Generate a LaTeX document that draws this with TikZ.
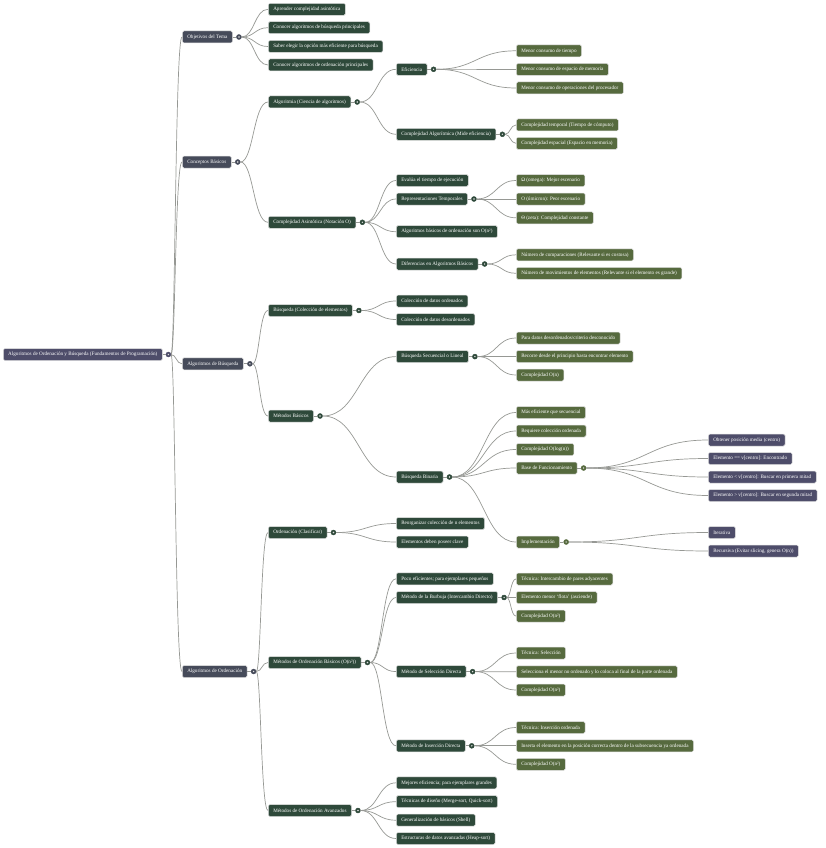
\documentclass[tikz,border=0pt]{standalone}
\usepackage{fontspec}
\setmainfont{Liberation Serif}
\usepackage{tikz}
\usetikzlibrary{positioning}
\definecolor{SlateNode}{RGB}{70,75,90}
\definecolor{PlumNode}{RGB}{78,77,106}
\definecolor{ForestNode}{RGB}{46,73,58}
\definecolor{OliveNode}{RGB}{86,106,62}
\definecolor{LinkGray}{RGB}{150,152,148}
\tikzset{
    topic/.style={rectangle, rounded corners=1.5pt, fill=#1, draw=black!12, line width=0.5pt,
        text=white, font=\fontsize{5.15}{6}\selectfont, inner xsep=5pt, inner ysep=0pt,
        minimum height=12pt, anchor=west},
    dot/.style={circle, fill=#1, draw=#1, inner sep=0pt, minimum size=5pt,
        path picture={\fill[white!75!gray] (path picture bounding box.center) circle (0.8pt);}},
    wire/.style={draw=LinkGray, line width=0.7pt},
}
\newcommand{\branch}[2]{%
    \path (#1) -- (#2.west) coordinate[pos=.5] (mid);
    \draw[wire] (#1.east) .. controls (mid |- #1) and (mid |- #2.west) .. (#2.west);}
\newcommand{\stem}[1]{\draw[wire] (#1.east) -- (#1-c.west);}

\begin{document}
\begin{tikzpicture}[x=1pt, y=-1pt]
            \path[use as bounding box] (0,0) rectangle (825,848);

            \node[topic=PlumNode] (root) at (3,354.5) {Algoritmos de Ordenación y Búsqueda (Fundamentos de Programación)};

            \node[topic=SlateNode] (obj) at (182,37) {Objetivos del Tema};
            \node[topic=SlateNode] (conc) at (182,162) {Conceptos Básicos};
            \node[topic=SlateNode] (busq) at (182,363.8) {Algoritmos de Búsqueda};
            \node[topic=SlateNode] (ord) at (182,671.5) {Algoritmos de Ordenación};

            \node[topic=ForestNode] (a1) at (268,9.3) {Aprender complejidad asintótica};
            \node[topic=ForestNode] (a2) at (268,27.7) {Conocer algoritmos de búsqueda principales};
            \node[topic=ForestNode] (a3) at (268,46.5) {Saber elegir la opción más eficiente para búsqueda};
            \node[topic=ForestNode] (a4) at (268,65) {Conocer algoritmos de ordenación principales};
            \node[topic=ForestNode] (alg) at (268,102) {Algoritmia (Ciencia de algoritmos)};
            \node[topic=ForestNode] (asin) at (268,222.3) {Complejidad Asintótica (Notación O)};
            \node[topic=ForestNode] (bcol) at (268,310.5) {Búsqueda (Colección de elementos)};
            \node[topic=ForestNode] (bmet) at (268,416) {Métodos Básicos};
            \node[topic=ForestNode] (oclas) at (268,532.5) {Ordenación (Clasificar)};
            \node[topic=ForestNode] (obas) at (268,662.5) {Métodos de Ordenación Básicos (O(n²))};
            \node[topic=ForestNode] (oava) at (268,810.5) {Métodos de Ordenación Avanzados};

            \node[topic=ForestNode] (efi) at (396,69.3) {Eficiencia};
            \node[topic=ForestNode] (calg) at (396,134.3) {Complejidad Algorítmica (Mide eficiencia)};
            \node[topic=ForestNode] (eval) at (396,180.5) {Evalúa el tiempo de ejecución};
            \node[topic=ForestNode] (rept) at (396,199) {Representaciones Temporales};
            \node[topic=ForestNode] (basn) at (396,231.7) {Algoritmos básicos de ordenación son O(n²)};
            \node[topic=ForestNode] (dif) at (396,264) {Diferencias en Algoritmos Básicos};
            \node[topic=ForestNode] (cord) at (396,301) {Colección de datos ordenados};
            \node[topic=ForestNode] (cdes) at (396,319.5) {Colección de datos desordenados};
            \node[topic=ForestNode] (bsec) at (396,356.6) {Búsqueda Secuencial o Lineal};
            \node[topic=ForestNode] (bbin) at (396,477) {Búsqueda Binaria};
            \node[topic=ForestNode] (reorg) at (396,523.5) {Reorganizar colección de n elementos};
            \node[topic=ForestNode] (clave) at (396,542) {Elementos deben poseer clave};
            \node[topic=ForestNode] (poco) at (396,578.8) {Poco eficientes; para ejemplares pequeños};
            \node[topic=ForestNode] (burb) at (396,597.5) {Método de la Burbuja (Intercambio Directo)};
            \node[topic=ForestNode] (sel) at (396,671.6) {Método de Selección Directa};
            \node[topic=ForestNode] (ins) at (396,745.8) {Método de Inserción Directa};
            \node[topic=ForestNode] (mej) at (396,782.8) {Mejores eficiencia; para ejemplares grandes};
            \node[topic=ForestNode] (tecd) at (396,801.7) {Técnicas de diseño (Merge-sort, Quick-sort)};
            \node[topic=ForestNode] (gen) at (396,820.2) {Generalización de básicos (Shell)};
            \node[topic=ForestNode] (estr) at (396,838.5) {Estructuras de datos avanzadas (Heap-sort)};

            \node[topic=OliveNode] (t1) at (516,50.8) {Menor consumo de tiempo};
            \node[topic=OliveNode] (t2) at (516,69.5) {Menor consumo de espacio de memoria};
            \node[topic=OliveNode] (t3) at (516,88) {Menor consumo de operaciones del procesador};
            \node[topic=OliveNode] (ct) at (516,125) {Complejidad temporal (Tiempo de cómputo)};
            \node[topic=OliveNode] (ce) at (516,143.3) {Complejidad espacial (Espacio en memoria)};
            \node[topic=OliveNode] (om) at (516,180.5) {Ω (omega): Mejor escenario};
            \node[topic=OliveNode] (omi) at (516,199) {O (ómicron): Peor escenario};
            \node[topic=OliveNode] (th) at (516,217.8) {Θ (zeta): Complejidad constante};
            \node[topic=OliveNode] (ncmp) at (516,254.8) {Número de comparaciones (Relevante si es costosa)};
            \node[topic=OliveNode] (nmov) at (516,273.3) {Número de movimientos de elementos (Relevante si el elemento es grande)};
            \node[topic=OliveNode] (pdd) at (516,338) {Para datos desordenados/criterio desconocido};
            \node[topic=OliveNode] (rec) at (516,356.5) {Recorre desde el principio hasta encontrar elemento};
            \node[topic=OliveNode] (con) at (516,375) {Complejidad O(n)};
            \node[topic=OliveNode] (mef) at (516,412.5) {Más eficiente que secuencial};
            \node[topic=OliveNode] (req) at (516,431) {Requiere colección ordenada};
            \node[topic=OliveNode] (clog) at (516,449.5) {Complejidad O(log(n))};
            \node[topic=OliveNode] (base) at (516,468) {Base de Funcionamiento};
            \node[topic=OliveNode] (impl) at (516,542) {Implementación};
            \node[topic=OliveNode] (bt1) at (516,579) {Técnica: Intercambio de pares adyacentes};
            \node[topic=OliveNode] (bt2) at (516,597.5) {Elemento menor ‘flota’ (asciende)};
            \node[topic=OliveNode] (bt3) at (516,616) {Complejidad O(n²)};
            \node[topic=OliveNode] (st1) at (516,653) {Técnica: Selección};
            \node[topic=OliveNode] (st2) at (516,671.8) {Selecciona el menor no ordenado y lo coloca al final de la parte ordenada};
            \node[topic=OliveNode] (st3) at (516,690) {Complejidad O(n²)};
            \node[topic=OliveNode] (it1) at (516,727.5) {Técnica: Inserción ordenada};
            \node[topic=OliveNode] (it2) at (516,745.8) {Inserta el elemento en la posición correcta dentro de la subsecuencia ya ordenada};
            \node[topic=OliveNode] (it3) at (516,764.3) {Complejidad O(n²)};

            \node[topic=PlumNode] (p1) at (708,440) {Obtener posición media (centro)};
            \node[topic=PlumNode] (p2) at (708,458.5) {Elemento == v[centro]: Encontrado};
            \node[topic=PlumNode] (p3) at (708,477) {Elemento < v[centro]: Buscar en primera mitad};
            \node[topic=PlumNode] (p4) at (708,495.5) {Elemento > v[centro]: Buscar en segunda mitad};
            \node[topic=PlumNode] (iter) at (708,532.5) {Iterativa};
            \node[topic=PlumNode] (recu) at (708,551) {Recursiva (Evitar slicing, genera O(n))};

            \node[dot=PlumNode, right=3pt of root] (root-c) {};
            \node[dot=SlateNode, right=3.5pt of obj] (obj-c) {};
            \node[dot=SlateNode, right=3.5pt of conc] (conc-c) {};
            \node[dot=SlateNode, right=3.5pt of busq] (busq-c) {};
            \node[dot=SlateNode, right=3.5pt of ord] (ord-c) {};
            \node[dot=ForestNode, right=3.5pt of alg] (alg-c) {};
            \node[dot=ForestNode, right=3.5pt of asin] (asin-c) {};
            \node[dot=ForestNode, right=3.5pt of bcol] (bcol-c) {};
            \node[dot=ForestNode, right=3.5pt of bmet] (bmet-c) {};
            \node[dot=ForestNode, right=3.5pt of oclas] (oclas-c) {};
            \node[dot=ForestNode, right=3.5pt of obas] (obas-c) {};
            \node[dot=ForestNode, right=3.5pt of oava] (oava-c) {};
            \node[dot=ForestNode, right=3.5pt of efi] (efi-c) {};
            \node[dot=ForestNode, right=3.5pt of calg] (calg-c) {};
            \node[dot=ForestNode, right=3.5pt of rept] (rept-c) {};
            \node[dot=ForestNode, right=3.5pt of dif] (dif-c) {};
            \node[dot=ForestNode, right=3.5pt of bsec] (bsec-c) {};
            \node[dot=ForestNode, right=3.5pt of bbin] (bbin-c) {};
            \node[dot=ForestNode, right=3.5pt of burb] (burb-c) {};
            \node[dot=ForestNode, right=3.5pt of sel] (sel-c) {};
            \node[dot=ForestNode, right=3.5pt of ins] (ins-c) {};
            \node[dot=OliveNode, right=3.5pt of base] (base-c) {};
            \node[dot=OliveNode, right=3.5pt of impl] (impl-c) {};

            \foreach \p in {root,obj,conc,busq,ord,alg,asin,bcol,bmet,oclas,obas,oava,
                efi,calg,rept,dif,bsec,bbin,burb,sel,ins,base,impl} {\stem{\p}}

            \foreach \c in {obj,conc,busq,ord} {\branch{root-c}{\c}}
            \foreach \c in {a1,a2,a3,a4} {\branch{obj-c}{\c}}
            \foreach \c in {alg,asin} {\branch{conc-c}{\c}}
            \foreach \c in {bcol,bmet} {\branch{busq-c}{\c}}
            \foreach \c in {oclas,obas,oava} {\branch{ord-c}{\c}}
            \foreach \c in {efi,calg} {\branch{alg-c}{\c}}
            \foreach \c in {eval,rept,basn,dif} {\branch{asin-c}{\c}}
            \foreach \c in {cord,cdes} {\branch{bcol-c}{\c}}
            \foreach \c in {bsec,bbin} {\branch{bmet-c}{\c}}
            \foreach \c in {reorg,clave} {\branch{oclas-c}{\c}}
            \foreach \c in {poco,burb,sel,ins} {\branch{obas-c}{\c}}
            \foreach \c in {mej,tecd,gen,estr} {\branch{oava-c}{\c}}
            \foreach \c in {t1,t2,t3} {\branch{efi-c}{\c}}
            \foreach \c in {ct,ce} {\branch{calg-c}{\c}}
            \foreach \c in {om,omi,th} {\branch{rept-c}{\c}}
            \foreach \c in {ncmp,nmov} {\branch{dif-c}{\c}}
            \foreach \c in {pdd,rec,con} {\branch{bsec-c}{\c}}
            \foreach \c in {mef,req,clog,base,impl} {\branch{bbin-c}{\c}}
            \foreach \c in {bt1,bt2,bt3} {\branch{burb-c}{\c}}
            \foreach \c in {st1,st2,st3} {\branch{sel-c}{\c}}
            \foreach \c in {it1,it2,it3} {\branch{ins-c}{\c}}
            \foreach \c in {p1,p2,p3,p4} {\branch{base-c}{\c}}
            \foreach \c in {iter,recu} {\branch{impl-c}{\c}}
        \end{tikzpicture}
\end{document}
